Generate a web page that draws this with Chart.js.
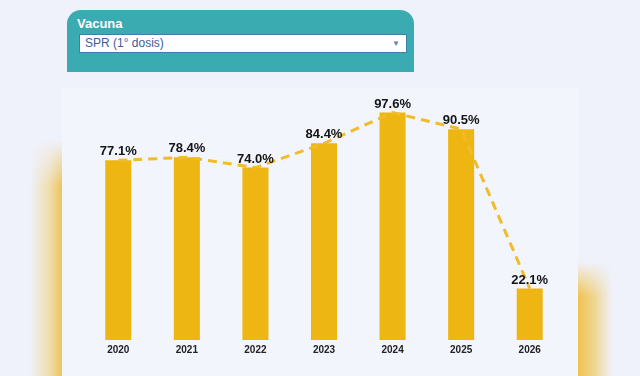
<!DOCTYPE html>
<html>
<head>
<meta charset="utf-8">
<script src="https://cdn.jsdelivr.net/npm/chart.js@4.4.1/dist/chart.umd.min.js"></script>
<style>
  html, body { margin: 0; padding: 0; }
  body {
    width: 640px; height: 376px; overflow: hidden; position: relative;
    background: #f0f2fb;
    font-family: "Liberation Sans", Arial, sans-serif;
  }
  .blurL {
    position: absolute; left: 30px; top: 140px; width: 32px; height: 236px;
    background: linear-gradient(to right, rgba(240,200,80,0) 0%, rgba(238,196,80,0.45) 60%, #eec258 100%);
    -webkit-mask-image: linear-gradient(to bottom, transparent 0%, #000 20%);
  }
  .blurR {
    position: absolute; left: 578px; top: 262px; width: 34px; height: 114px;
    background: linear-gradient(to left, rgba(240,200,80,0) 0%, rgba(238,196,80,0.6) 50%, #efc24e 100%);
    -webkit-mask-image: linear-gradient(to bottom, transparent 0%, #000 30%);
  }
  .card {
    position: absolute; left: 62px; top: 88px; width: 516px; height: 300px;
    background: #f3f5fd;
  }
  .header {
    position: absolute; left: 67px; top: 10px; width: 347px; height: 62px;
    background: #3aabb0; border-radius: 14px 14px 0 0;
  }
  .header .title {
    position: absolute; left: 10px; top: 6px; color: #fff;
    font-weight: bold; font-size: 13px;
  }
  .header .select {
    position: absolute; left: 12px; top: 24px; width: 321px; height: 17px;
    background: #fff; border: 1px solid #3f7fa8;
    color: #3d5b96; font-size: 12px; line-height: 17px; padding-left: 5px;
  }
  .header .arrow {
    position: absolute; right: 6px; top: 0; font-size: 8px; color: #6a7fa8;
  }
  .chartBox {
    position: absolute; left: 84px; top: 84px; width: 480px; height: 276px;
  }
</style>
</head>
<body>
<div class="blurL"></div>
<div class="blurR"></div>
<div class="card"></div>
<div class="header">
  <div class="title">Vacuna</div>
  <div class="select">SPR (1° dosis)<span class="arrow">▼</span></div>
</div>
<div class="chartBox"><canvas id="chart"></canvas></div>
<script>
const years = ['2020', '2021', '2022', '2023', '2024', '2025', '2026'];
const coverage = [77.1, 78.4, 74.0, 84.4, 97.6, 90.5, 22.1];

const barColor = '#eeb612';
const lineColor = '#f0bc2a';

// value labels above the bars
const valueLabels = {
  id: 'valueLabels',
  afterDatasetsDraw(chart) {
    const ctx = chart.ctx;
    const meta = chart.getDatasetMeta(1);
    ctx.save();
    ctx.font = 'bold 13px "Liberation Sans", Arial, sans-serif';
    ctx.fillStyle = '#141414';
    ctx.textAlign = 'center';
    ctx.textBaseline = 'bottom';
    meta.data.forEach((bar, i) => {
      ctx.fillText(coverage[i].toFixed(1) + '%', bar.x, bar.y - 2);
    });
    ctx.restore();
  }
};

new Chart(document.getElementById('chart'), {
  data: {
    labels: years,
    datasets: [
      {
        type: 'line',
        data: coverage,
        borderColor: lineColor,
        borderWidth: 3,
        borderDash: [9, 6],
        pointRadius: 0,
        tension: 0,
        order: 0
      },
      {
        type: 'bar',
        data: coverage,
        backgroundColor: barColor,
        categoryPercentage: 1,
        barPercentage: 0.38,
        order: 1
      }
    ]
  },
  options: {
    responsive: true,
    maintainAspectRatio: false,
    animation: false,
    layout: { padding: { top: 23, left: 0, right: 0, bottom: 0 } },
    plugins: { legend: { display: false }, tooltip: { enabled: false } },
    scales: {
      x: {
        grid: { display: false, drawTicks: false },
        border: { display: false },
        ticks: {
          color: '#222',
          padding: 4,
          font: { family: '"Liberation Sans", Arial, sans-serif', size: 10, weight: 'bold' }
        }
      },
      y: { display: false, min: 0, max: 100 }
    }
  },
  plugins: [valueLabels]
});
</script>
</body>
</html>
